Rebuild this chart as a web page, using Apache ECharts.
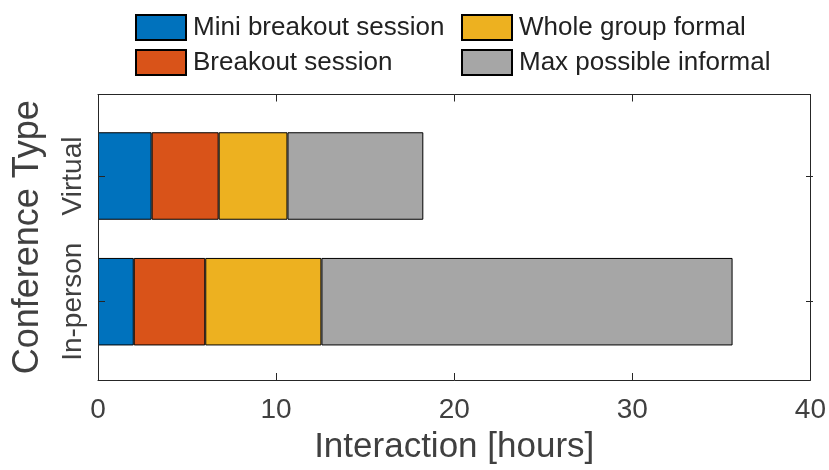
<!DOCTYPE html>
<html>
<head>
<meta charset="utf-8">
<script src="https://cdn.jsdelivr.net/npm/echarts@6/dist/echarts.min.js"></script>
<style>
  html, body { margin: 0; padding: 0; background: #fff; }
  #chart { width: 829px; height: 470px; }
</style>
</head>
<body>
<div id="chart"></div>
<script>
// ---- data ----
const categories = ['In-person', 'Virtual'];
const miniBreakout = [2.0, 3.0];
const breakout = [4.0, 3.75];
const wholeGroup = [6.5, 3.85];
const maxInformal = [23.0, 7.6];
const seriesNames = ['Mini breakout session', 'Breakout session', 'Whole group formal', 'Max possible informal'];
const xTicks = { min: 0, max: 40, interval: 10 };

const colors = ['#0072BD', '#D95319', '#EDB120', '#A6A6A6'];
const font = 'Liberation Sans, Arial, Helvetica, sans-serif';
const axisCol = '#262626';
const textCol = '#404040';

const chart = echarts.init(document.getElementById('chart'), null, { renderer: 'canvas' });

const values = [miniBreakout, breakout, wholeGroup, maxInformal];
const series = values.map((v, i) => ({
  name: seriesNames[i],
  type: 'bar',
  stack: 'total',
  xAxisIndex: 2,
  yAxisIndex: 2,
  data: v,
  barWidth: 87.5,
  itemStyle: { color: colors[i], borderColor: '#000', borderWidth: 1 },
  emphasis: { disabled: true }
}));

const option = {
  animation: false,
  backgroundColor: '#fff',
  textStyle: { fontFamily: font },
  legend: [
    {
      orient: 'vertical', left: 135, top: 14, padding: 0,
      itemWidth: 50, itemHeight: 25, itemGap: 8,
      icon: 'rect',
      selectedMode: false,
      data: [seriesNames[0], seriesNames[1]],
      textStyle: { fontSize: 26, color: '#222', fontFamily: font, padding: [0, 0, 0, 2] }
    },
    {
      orient: 'vertical', left: 461, top: 14, padding: 0,
      itemWidth: 50, itemHeight: 25, itemGap: 8,
      icon: 'rect',
      selectedMode: false,
      data: [seriesNames[2], seriesNames[3]],
      textStyle: { fontSize: 26, color: '#222', fontFamily: font, padding: [0, 0, 0, 2] }
    }
  ],
  grid: [
    { left: 98, right: 16, top: 94.5, bottom: 87.5, containLabel: false },
    { left: 98, right: 16, top: 113.15, bottom: 105.45, containLabel: false }
  ],
  xAxis: [
    {
      gridIndex: 0, type: 'value', position: 'bottom', z: 5,
      min: xTicks.min, max: xTicks.max, interval: xTicks.interval,
      axisLine: { show: true, onZero: false, lineStyle: { color: axisCol, width: 1 } },
      axisTick: { show: true, inside: true, length: 7, lineStyle: { color: axisCol } },
      axisLabel: { show: true, fontSize: 28, color: textCol, margin: 16, fontFamily: font },
      splitLine: { show: false },
      name: 'Interaction [hours]', nameLocation: 'middle', nameGap: 50,
      nameTextStyle: { fontSize: 35, color: textCol, fontFamily: font }
    },
    {
      gridIndex: 0, type: 'value', position: 'top', z: 5,
      min: xTicks.min, max: xTicks.max, interval: xTicks.interval,
      axisLine: { show: true, onZero: false, lineStyle: { color: axisCol, width: 1 } },
      axisTick: { show: true, inside: true, length: 7, lineStyle: { color: axisCol } },
      axisLabel: { show: false },
      splitLine: { show: false }
    },
    {
      gridIndex: 1, type: 'value', position: 'bottom',
      min: xTicks.min, max: xTicks.max, interval: xTicks.interval,
      show: false
    }
  ],
  yAxis: [
    {
      gridIndex: 0, type: 'value', position: 'left', min: 0, max: 1, z: 5,
      axisLine: { show: true, onZero: false, lineStyle: { color: axisCol, width: 1 } },
      axisTick: { show: false }, axisLabel: { show: false }, splitLine: { show: false },
      name: 'Conference Type', nameLocation: 'middle', nameGap: 52, nameRotate: 90,
      nameTextStyle: { fontSize: 36, color: textCol, fontFamily: font }
    },
    {
      gridIndex: 0, type: 'value', position: 'right', min: 0, max: 1, z: 5,
      axisLine: { show: true, onZero: false, lineStyle: { color: axisCol, width: 1 } },
      axisTick: { show: false }, axisLabel: { show: false }, splitLine: { show: false }
    },
    {
      gridIndex: 1, type: 'category', position: 'left', data: categories, z: 5,
      axisLine: { show: false },
      axisTick: { show: true, inside: true, length: 7, alignWithLabel: true, interval: 0, lineStyle: { color: axisCol } },
      axisLabel: { show: true, interval: 0, rotate: 90, fontSize: 28, color: textCol, margin: 11, fontFamily: font, hideOverlap: false },
      splitLine: { show: false }
    },
    {
      gridIndex: 1, type: 'category', position: 'right', data: categories, z: 5,
      axisLine: { show: false },
      axisTick: { show: true, inside: true, length: 7, alignWithLabel: true, interval: 0, lineStyle: { color: axisCol } },
      axisLabel: { show: false },
      splitLine: { show: false }
    }
  ],
  series: series
};

chart.setOption(option);
</script>
</body>
</html>
